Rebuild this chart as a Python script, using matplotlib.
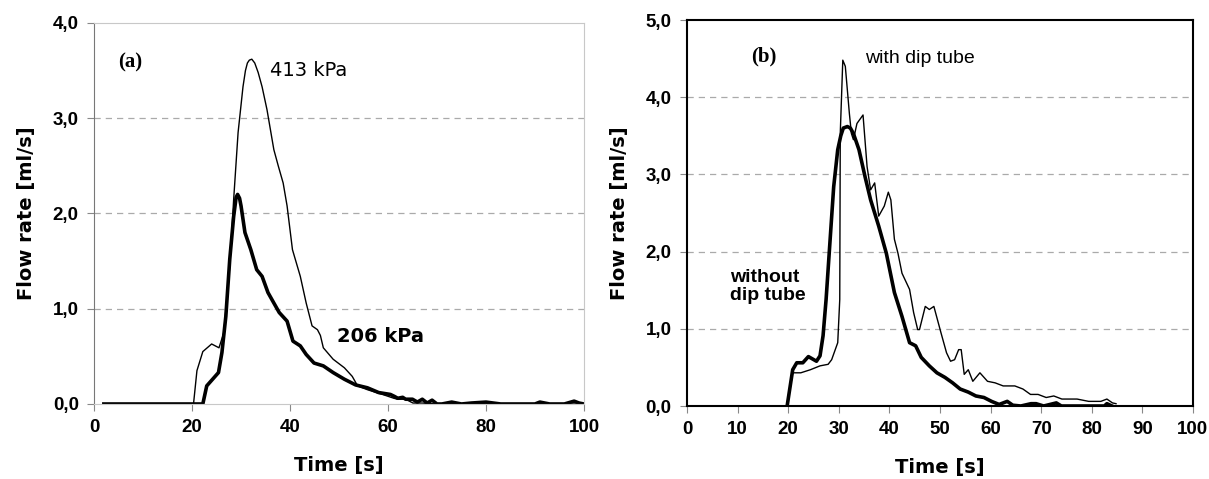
import matplotlib
matplotlib.use("Agg")
import matplotlib.pyplot as plt

# panel (a): flow rate vs time at two pressures
t_413 = [2, 20.3, 21.0, 22.2, 24.0, 25.5, 26.5, 27.7, 28.5, 29.4, 30.4, 30.9, 31.3, 31.7, 32.2,
         32.8, 33.5, 34.3, 35.3, 36.0, 36.7, 37.6, 38.6, 39.4, 40.5, 42.1, 43.3, 44.5, 45.6,
         46.2, 46.8, 48.8, 51.1, 52.7, 53.8, 55.8, 58.9, 61.2, 62.0, 63.6, 65.1, 67.0, 70.0,
         75.0, 80.0, 85.0, 90.0, 95.0, 100.0]
q_413 = [0, 0, 0.35, 0.55, 0.63, 0.59, 0.75, 1.45, 2.15, 2.85, 3.33, 3.50, 3.58, 3.61, 3.62,
         3.58, 3.48, 3.33, 3.09, 2.88, 2.67, 2.50, 2.32, 2.08, 1.62, 1.34, 1.06, 0.82, 0.78,
         0.72, 0.59, 0.47, 0.38, 0.29, 0.19, 0.15, 0.10, 0.06, 0.05, 0.05, 0.01, 0.01, 0.0,
         0.0, 0.0, 0.0, 0.0, 0.0, 0.0]

t_206 = [2, 22.2, 23.0, 24.2, 25.4, 26.1, 26.9, 27.7, 28.5, 29.0, 29.3, 29.7, 30.0, 30.8, 32.0,
         33.2, 34.3, 35.5, 36.7, 37.8, 39.4, 40.6, 42.1, 43.3, 44.9, 46.8, 48.8, 51.1, 53.4,
         55.8, 58.1, 60.5, 61.3, 62.0, 63.0, 63.6, 65.0, 66.0, 67.0, 68.0, 69.0, 70.0, 71.0,
         73.0, 75.0, 77.0, 80.0, 83.0, 86.0, 90.0, 91.0, 93.0, 96.0, 98.0, 99.0, 100.0]
q_206 = [0, 0, 0.19, 0.26, 0.33, 0.54, 0.92, 1.52, 1.97, 2.17, 2.20, 2.16, 2.08, 1.80, 1.62,
         1.41, 1.34, 1.17, 1.06, 0.96, 0.87, 0.66, 0.61, 0.52, 0.43, 0.40, 0.33, 0.26, 0.20,
         0.17, 0.12, 0.10, 0.08, 0.06, 0.07, 0.05, 0.05, 0.02, 0.05, 0.01, 0.04, 0.0, 0.0,
         0.02, 0.0, 0.01, 0.02, 0.0, 0.0, 0.0, 0.02, 0.0, 0.0, 0.03, 0.01, 0.0]

# panel (b): with / without dip tube
t_without = [19.8, 20.9, 21.7, 22.9, 24.0, 25.6, 26.3, 26.9, 27.5, 28.3, 29.0, 29.8, 30.4, 30.9,
             31.7, 32.3, 32.9, 34.0, 35.2, 36.3, 37.9, 39.4, 41.0, 42.5, 44.0, 45.2, 46.3, 47.9,
             49.4, 51.0, 52.5, 54.0, 55.6, 57.1, 58.7, 60.2, 61.7, 63.3, 64.4, 66.0, 68.0,
             69.0, 70.5, 73.0, 74.0, 78.0, 82.5, 83.0, 84.0]
q_without = [0, 0.47, 0.56, 0.56, 0.64, 0.58, 0.65, 0.91, 1.38, 2.16, 2.84, 3.32, 3.50, 3.60,
             3.62, 3.60, 3.53, 3.32, 2.97, 2.67, 2.33, 1.98, 1.47, 1.16, 0.82, 0.78, 0.63, 0.52,
             0.43, 0.37, 0.30, 0.22, 0.18, 0.13, 0.11, 0.06, 0.02, 0.06, 0.01, 0.0, 0.03,
             0.03, 0.0, 0.04, 0.0, 0.0, 0.0, 0.03, 0.0]

t_with = [19.8, 20.9, 22.5, 24.4, 26.3, 27.9, 28.6, 29.8, 30.2, 30.3, 30.8, 31.3, 32.1, 32.5,
          32.9, 33.6, 34.8, 35.6, 36.3, 37.1, 37.9, 39.0, 39.8, 40.3, 41.0, 41.7, 42.5, 44.0,
          44.8, 45.6, 45.96, 47.1, 47.9, 48.8, 50.2, 51.3, 52.1, 52.9, 53.7, 54.2, 54.8, 55.6,
          56.5, 57.9, 59.4, 60.9, 62.5, 64.8, 66.4, 67.9, 69.4, 71.0, 72.5, 74.1, 77.1, 79.4,
          81.8, 83.0, 84.1, 84.8]
q_with = [0, 0.43, 0.43, 0.47, 0.52, 0.54, 0.60, 0.82, 1.38, 3.53, 4.48, 4.40, 3.79, 3.53,
          3.45, 3.66, 3.77, 3.10, 2.80, 2.89, 2.46, 2.59, 2.77, 2.67, 2.16, 1.98, 1.72, 1.51,
          1.21, 0.99, 0.99, 1.29, 1.25, 1.29, 0.95, 0.69, 0.58, 0.60, 0.73, 0.73, 0.41, 0.47,
          0.32, 0.43, 0.32, 0.30, 0.26, 0.26, 0.22, 0.15, 0.15, 0.11, 0.13, 0.09, 0.09, 0.06,
          0.06, 0.09, 0.04, 0.03]

tick_font = dict(family="Liberation Sans", weight="bold", size=13.5)
label_font = dict(family="DejaVu Sans", weight="bold", size=14)


def style_axes(ax, ymax, xticks, grid_levels, frame_color):
    ax.set_xlim(0, 100)
    ax.set_ylim(0, ymax)
    ax.set_xticks(xticks)
    ax.set_yticks([i for i in range(int(ymax) + 1)])
    ax.set_yticklabels([f"{i},0" for i in range(int(ymax) + 1)], fontdict=tick_font)
    ax.set_xticklabels([str(x) for x in xticks], fontdict=tick_font)
    for y in grid_levels:
        ax.axhline(y, color="#aaaaaa", linestyle=(0, (5, 4)), linewidth=0.9, zorder=0)
    for s in ax.spines.values():
        s.set_color(frame_color)
    ax.tick_params(direction="out", length=5, color="#888888", pad=6)
    ax.set_xlabel("Time [s]", fontdict=label_font, labelpad=14)
    ax.set_ylabel("Flow rate [ml/s]", fontdict=label_font, labelpad=12)


fig = plt.figure(figsize=(12.09, 4.79), dpi=100)

ax1 = fig.add_axes([0.0778, 0.1566, 0.4052, 0.7954])
ax1.plot(t_413, q_413, color="black", linewidth=1.0)
ax1.plot(t_206, q_206, color="black", linewidth=2.6)
style_axes(ax1, 4, [0, 20, 40, 60, 80, 100], [1, 2, 3], "#c8c8c8")
ax1.spines["left"].set_color("#777777")
ax1.text(7.4, 3.59, "(a)", family="Liberation Serif", weight="bold", size=15,
         ha="center", va="center")
ax1.text(35.9, 3.5, "413 kPa", family="DejaVu Sans", size=14, va="center")
ax1.text(49.5, 0.71, "206 kPa", family="DejaVu Sans", weight="bold", size=14, va="center")

ax2 = fig.add_axes([0.5682, 0.1524, 0.4185, 0.8058])
ax2.plot(t_with, q_with, color="black", linewidth=1.0)
ax2.plot(t_without, q_without, color="black", linewidth=2.6)
style_axes(ax2, 5, list(range(0, 101, 10)), [1, 2, 3, 4], "black")
for s in ax2.spines.values():
    s.set_linewidth(1.5)
ax2.text(15.2, 4.53, "(b)", family="Liberation Serif", weight="bold", size=15,
         ha="center", va="center")
ax2.text(35.2, 4.5, "with dip tube", family="Liberation Sans", size=14, va="center")
ax2.text(8.6, 1.55, "without\ndip tube", family="Liberation Sans", weight="bold", size=14,
         va="center", linespacing=1.05)

fig.savefig("out.png", dpi=100)
